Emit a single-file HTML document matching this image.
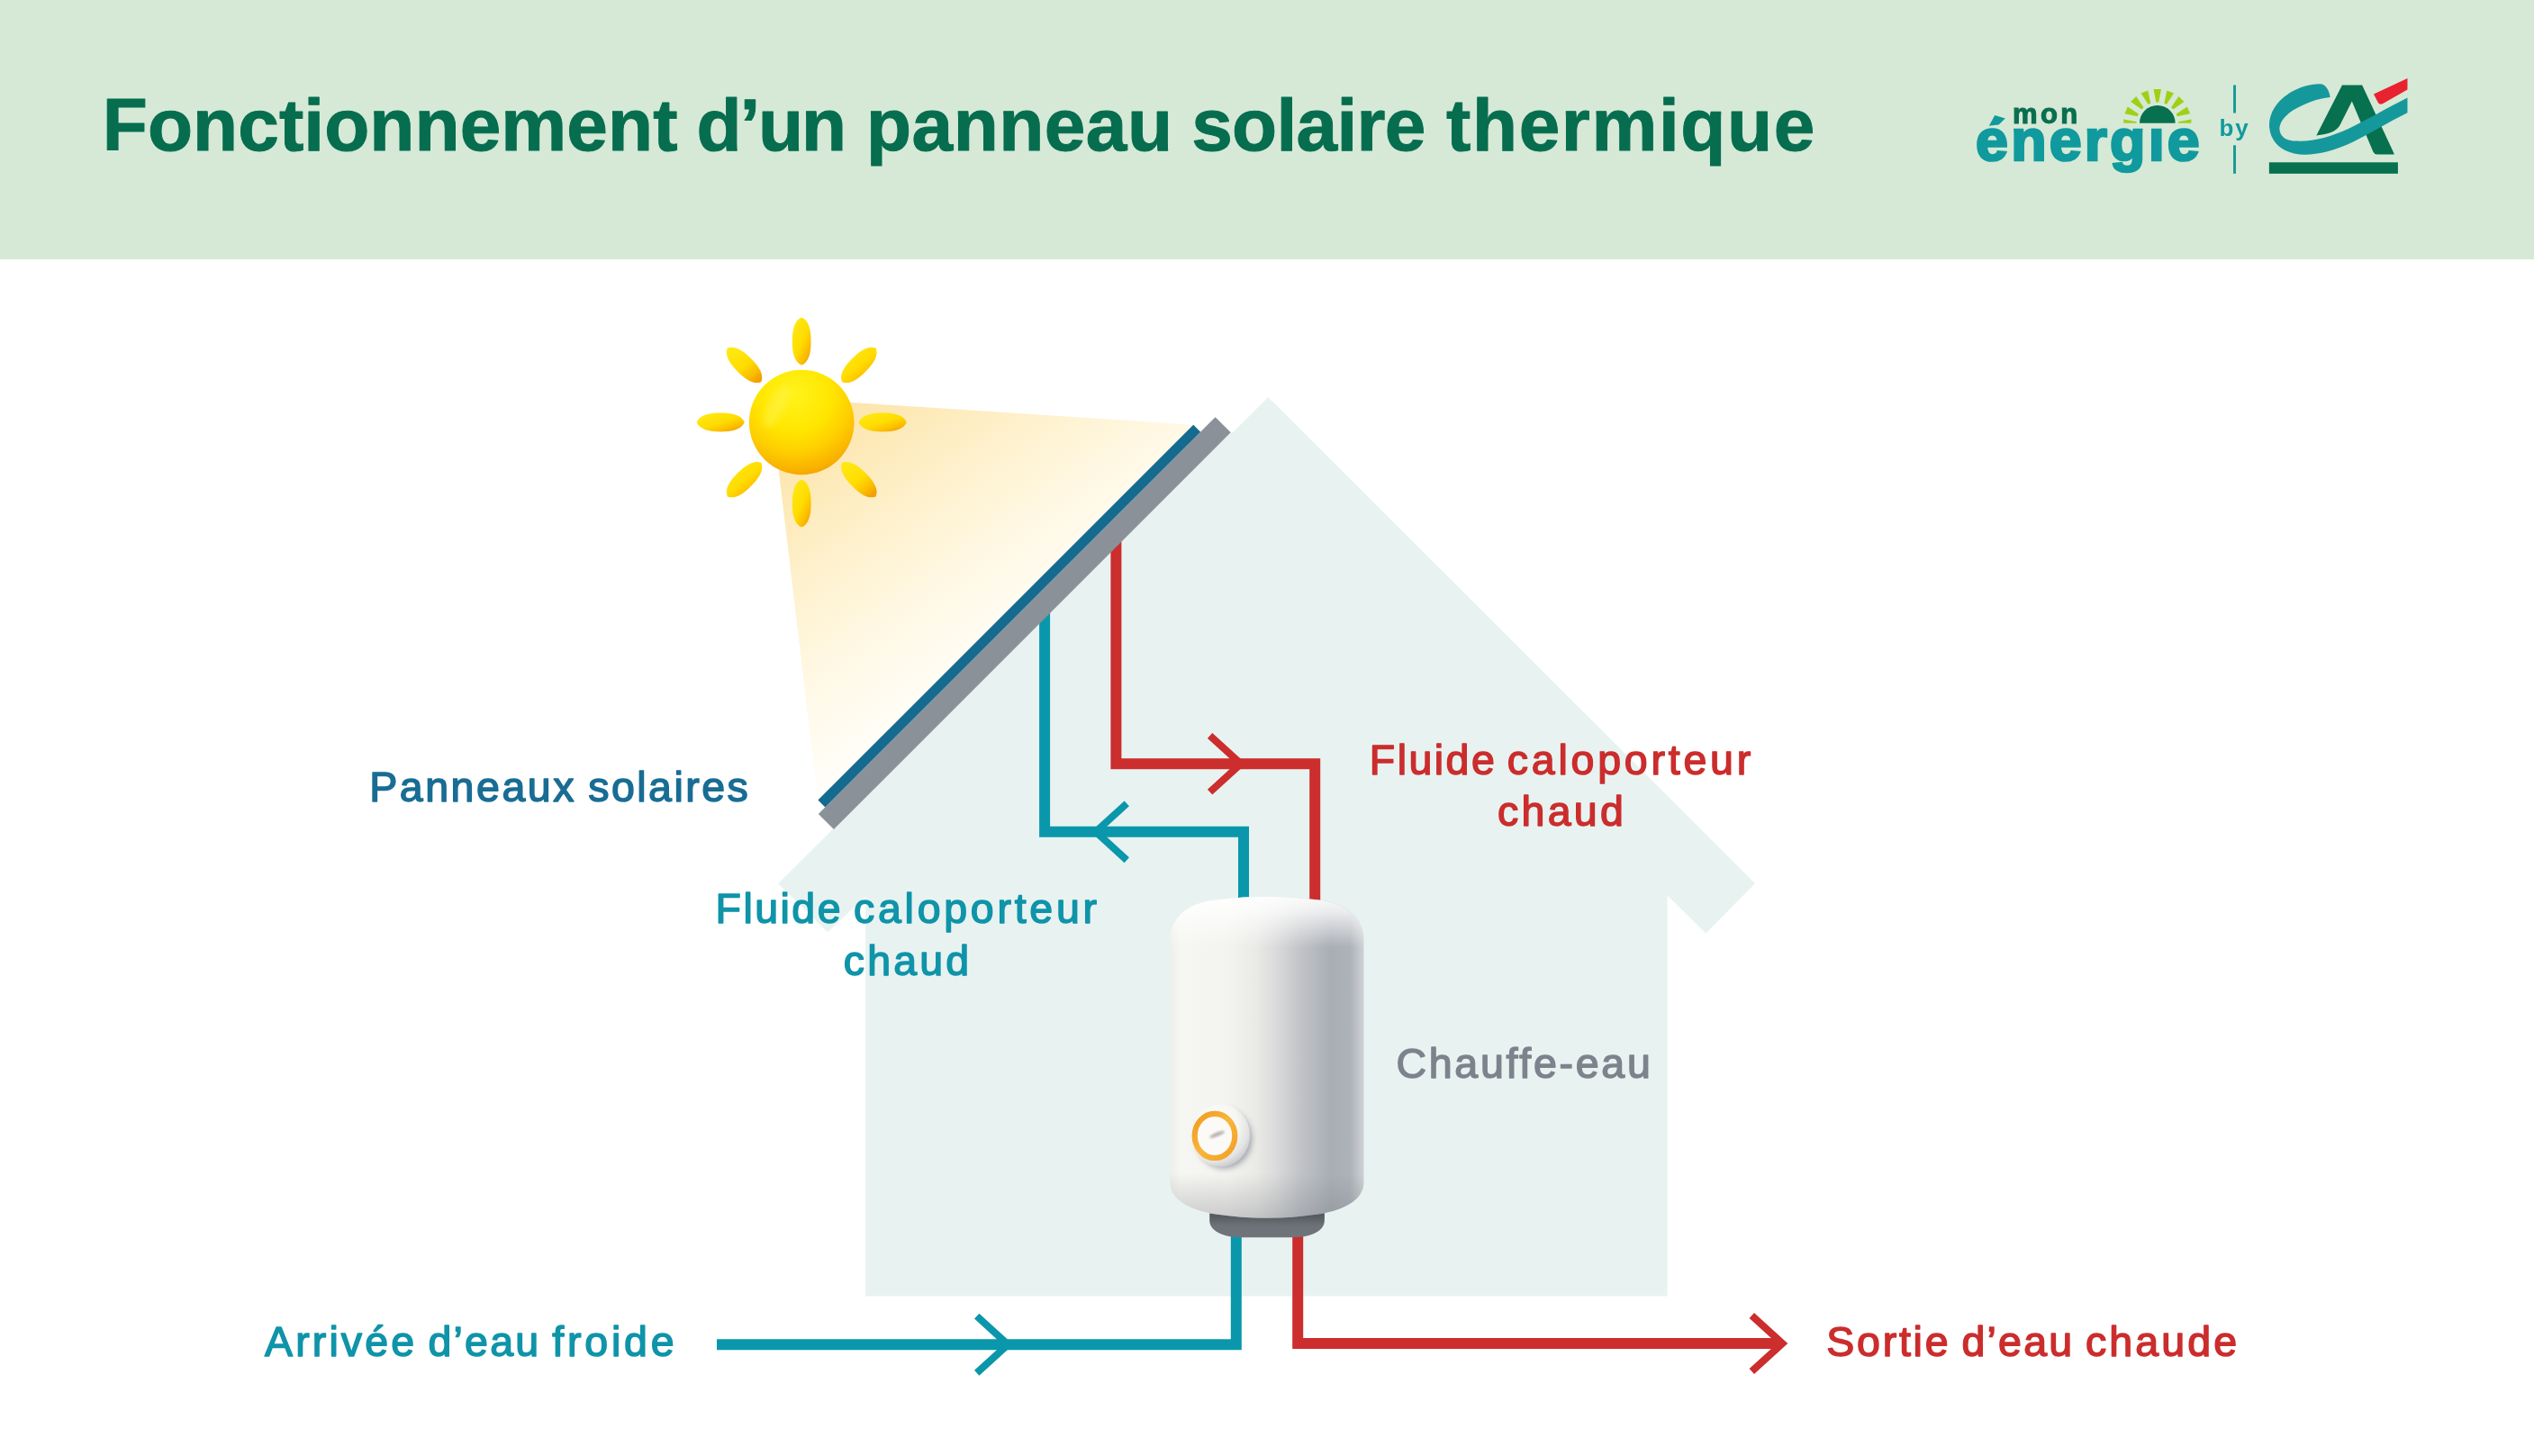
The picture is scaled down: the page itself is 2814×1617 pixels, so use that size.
<!DOCTYPE html>
<html lang="fr">
<head>
<meta charset="utf-8">
<title>Fonctionnement d'un panneau solaire thermique</title>
<style>
html,body{margin:0;padding:0;background:#ffffff;}
body{width:2814px;height:1617px;overflow:hidden;font-family:"Liberation Sans",sans-serif;}
svg{display:block;position:absolute;left:0;top:0;will-change:transform;}
text{font-family:"Liberation Sans",sans-serif;}
.b{font-weight:bold;}
</style>
</head>
<body>
<svg width="2814" height="1617" viewBox="0 0 2814 1617">
<defs>
  <linearGradient id="beam" gradientUnits="userSpaceOnUse" x1="855" y1="441" x2="1084.6" y2="768.6">
    <stop offset="0" stop-color="#fde0a0"/>
    <stop offset="0.25" stop-color="#fde9b6"/>
    <stop offset="0.5" stop-color="#fef2d0"/>
    <stop offset="0.75" stop-color="#fff9e8"/>
    <stop offset="1" stop-color="#fffefa"/>
  </linearGradient>
  <radialGradient id="sunG" gradientUnits="userSpaceOnUse" cx="882" cy="438" r="98">
    <stop offset="0" stop-color="#fff31c"/>
    <stop offset="0.42" stop-color="#ffe600"/>
    <stop offset="0.66" stop-color="#fece00"/>
    <stop offset="0.86" stop-color="#f9b100"/>
    <stop offset="1" stop-color="#f19800"/>
  </radialGradient>
  <linearGradient id="petG" x1="0.15" y1="0.1" x2="0.85" y2="0.95">
    <stop offset="0" stop-color="#ffe812"/>
    <stop offset="0.5" stop-color="#ffdc00"/>
    <stop offset="0.8" stop-color="#fbbd00"/>
    <stop offset="1" stop-color="#f2a000"/>
  </linearGradient>
  <linearGradient id="tankG" gradientUnits="userSpaceOnUse" x1="1299.5" y1="0" x2="1514.5" y2="0">
    <stop offset="0" stop-color="#eeeeea"/>
    <stop offset="0.05" stop-color="#f6f6f2"/>
    <stop offset="0.30" stop-color="#f3f3ef"/>
    <stop offset="0.45" stop-color="#e9e9e6"/>
    <stop offset="0.55" stop-color="#d9dada"/>
    <stop offset="0.68" stop-color="#c0c2c6"/>
    <stop offset="0.83" stop-color="#a9aeb5"/>
    <stop offset="0.93" stop-color="#aeb2b9"/>
    <stop offset="1" stop-color="#cfd2d5"/>
  </linearGradient>
  <linearGradient id="tankV" gradientUnits="userSpaceOnUse" x1="0" y1="995" x2="0" y2="1353">
    <stop offset="0" stop-color="#ffffff" stop-opacity="0.95"/>
    <stop offset="0.05" stop-color="#ffffff" stop-opacity="0.75"/>
    <stop offset="0.16" stop-color="#ffffff" stop-opacity="0"/>
    <stop offset="0.86" stop-color="#70757c" stop-opacity="0"/>
    <stop offset="1" stop-color="#70757c" stop-opacity="0.32"/>
  </linearGradient>
  <linearGradient id="baseG" gradientUnits="userSpaceOnUse" x1="0" y1="1350" x2="0" y2="1374">
    <stop offset="0" stop-color="#555a60"/>
    <stop offset="0.45" stop-color="#6c7177"/>
    <stop offset="1" stop-color="#70757b"/>
  </linearGradient>
  <linearGradient id="ringG" x1="0" y1="0" x2="1" y2="1">
    <stop offset="0" stop-color="#f19a20"/>
    <stop offset="0.5" stop-color="#f8b53a"/>
    <stop offset="1" stop-color="#f2a024"/>
  </linearGradient>
  <radialGradient id="knobG" gradientUnits="userSpaceOnUse" cx="1346" cy="1250" r="48">
    <stop offset="0" stop-color="#fcfcfa"/>
    <stop offset="0.6" stop-color="#f6f6f3"/>
    <stop offset="0.85" stop-color="#e2e3e3"/>
    <stop offset="1" stop-color="#c9cbce"/>
  </radialGradient>
  <filter id="blur3" x="-50%" y="-50%" width="200%" height="200%"><feGaussianBlur stdDeviation="3"/></filter>
  <filter id="blur1" x="-50%" y="-50%" width="200%" height="200%"><feGaussianBlur stdDeviation="0.8"/></filter>
  <path id="tankbody" d="M1299.5,1043 C1299.5,1018 1322,1001 1354,999 Q1407,992.6 1460,999 C1492,1001 1514.5,1018 1514.5,1043 V1313 C1514.5,1330 1498,1343 1464,1348.5 Q1407,1357 1350,1348.5 C1316,1343 1299.5,1330 1299.5,1313 Z"/>
</defs>

<!-- header band -->
<rect x="0" y="0" width="2814" height="288" fill="#d6e9d6"/>

<!-- house -->
<path id="house" fill="#e8f3f1" d="M1408.4,440.9 L1949.1,981.3 L1894.3,1036.4 L1851.6,994.6 L1851.6,1439.5 L961.2,1439.5 L961.2,995.8 L919.2,1035.3 L864.1,981.3 Z"/>

<polygon points="1364.5,478.5 1369.5,483.5 930,923 925,918" fill="#e8f3f1"/>

<!-- light beam -->
<polygon points="855,441 1325.3,471.8 908.4,888.6" fill="url(#beam)"/>

<!-- pipes -->
<g fill="none" stroke-width="12" stroke-linejoin="miter" stroke-linecap="butt">
  <path stroke="#cc2d2d" d="M1239.4,600 V848.3 H1460.2 V1000"/>
  <path stroke="#0b97ab" d="M1160.1,680 V923.8 H1381 V1000"/>
  <path stroke="#0b97ab" d="M796,1493.2 H1372.8 V1365"/>
  <path stroke="#cc2d2d" d="M1441.2,1365 V1492 H1979"/>
</g>
<g fill="none" stroke-width="8" stroke-linejoin="miter" stroke-linecap="butt">
  <path stroke="#cc2d2d" d="M1343.6,817 L1378,848.3 L1343.6,879.6"/>
  <path stroke="#0b97ab" d="M1251.3,892.4 L1216.8,923.8 L1251.3,955.2"/>
  <path stroke="#0b97ab" d="M1084.7,1461.6 L1119.4,1493.2 L1084.7,1524.8"/>
  <path stroke="#cc2d2d" d="M1945.3,1461 L1979.4,1492 L1945.3,1523"/>
</g>

<!-- solar panel -->
<polygon points="1349.6,463.2 1366.7,480.3 925.95,921.05 908.85,903.95" fill="#8b9199"/>
<polygon points="1325.25,471.75 1333.15,479.65 916.3,896.5 908.4,888.6" fill="#156b8f"/>

<!-- sun -->
<g fill="url(#petG)">
  <path d="M953.6,469.0 C957.1,460.9 967.2,458.6 980.2,458.6 C993.2,458.6 1003.3,460.9 1006.8,469.0 C1003.3,477.1 993.2,479.4 980.2,479.4 C967.2,479.4 957.1,477.1 953.6,469.0Z"/>
  <path d="M935.0,513.8 C943.2,510.6 952.0,516.1 961.2,525.3 C970.4,534.5 975.9,543.2 972.6,551.4 C964.4,554.7 955.7,549.2 946.5,540.0 C937.3,530.8 931.8,522.0 935.0,513.8Z"/>
  <path d="M890.2,532.4 C898.3,535.9 900.6,546.0 900.6,559.0 C900.6,572.0 898.3,582.1 890.2,585.6 C882.1,582.1 879.8,572.0 879.8,559.0 C879.8,546.0 882.1,535.9 890.2,532.4Z"/>
  <path d="M845.4,513.8 C848.6,522.0 843.1,530.8 833.9,540.0 C824.7,549.2 816.0,554.7 807.8,551.4 C804.5,543.2 810.0,534.5 819.2,525.3 C828.4,516.1 837.2,510.6 845.4,513.8Z"/>
  <path d="M826.8,469.0 C823.3,477.1 813.2,479.4 800.2,479.4 C787.2,479.4 777.1,477.1 773.6,469.0 C777.1,460.9 787.2,458.6 800.2,458.6 C813.2,458.6 823.3,460.9 826.8,469.0Z"/>
  <path d="M845.4,424.2 C837.2,427.4 828.4,421.9 819.2,412.7 C810.0,403.5 804.5,394.8 807.8,386.6 C816.0,383.3 824.7,388.8 833.9,398.0 C843.1,407.2 848.6,416.0 845.4,424.2Z"/>
  <path d="M890.2,405.6 C882.1,402.1 879.8,392.0 879.8,379.0 C879.8,366.0 882.1,355.9 890.2,352.4 C898.3,355.9 900.6,366.0 900.6,379.0 C900.6,392.0 898.3,402.1 890.2,405.6Z"/>
  <path d="M935.0,424.2 C931.8,416.0 937.3,407.2 946.5,398.0 C955.7,388.8 964.4,383.3 972.6,386.6 C975.9,394.8 970.4,403.5 961.2,412.7 C952.0,421.9 943.2,427.4 935.0,424.2Z"/>
</g>
<circle cx="890.2" cy="469" r="58.3" fill="url(#sunG)"/>
<ellipse cx="862" cy="452" rx="9" ry="26" transform="rotate(28 862 452)" fill="#fff76a" opacity="0.35" filter="url(#blur3)"/>

<!-- TANK -->
<g id="tank">
  <path d="M1343.2,1340 H1470.9 V1355 C1470.9,1367 1457,1374.2 1434,1374.2 H1380 C1357,1374.2 1343.2,1367 1343.2,1355 Z" fill="url(#baseG)"/>
  <use href="#tankbody" fill="url(#tankG)"/>
  <use href="#tankbody" fill="url(#tankV)"/>
  <ellipse cx="1359.5" cy="1265" rx="31" ry="33" fill="#8d939b" opacity="0.75" filter="url(#blur3)"/>
  <ellipse cx="1355.5" cy="1261" rx="32.5" ry="35" fill="url(#knobG)"/>
  <ellipse cx="1349" cy="1261.4" rx="22.3" ry="24.6" fill="#fbfaf7" stroke="url(#ringG)" stroke-width="6.2"/>
  <ellipse cx="1351.6" cy="1259.8" rx="9" ry="2.3" transform="rotate(-22 1351.6 1259.8)" fill="#b9b6b0" filter="url(#blur1)"/>
</g>

<!-- TEXT -->
<g id="labels" stroke-linejoin="round">
  <text id="t_title" class="b" y="166.6" font-size="82" fill="#066d4f" stroke="#066d4f" stroke-width="1.0"><tspan x="113.8" textLength="638.7" lengthAdjust="spacing">Fonctionnement</tspan><tspan x="773.6" textLength="166.4" lengthAdjust="spacing">d’un</tspan><tspan x="962.0" textLength="340.0" lengthAdjust="spacing">panneau</tspan><tspan x="1323.2" textLength="260.1" lengthAdjust="spacing">solaire</tspan><tspan x="1606.0" textLength="409.4" lengthAdjust="spacing">thermique</tspan></text>
  <text id="t_pan" y="890.1" font-size="46.5" fill="#196d94" stroke="#196d94" stroke-width="1.5"><tspan x="410.3" textLength="227.1" lengthAdjust="spacing">Panneaux</tspan><tspan x="653.3" textLength="177.4" lengthAdjust="spacing">solaires</tspan></text>
  <text id="t_fc1" y="1025.3" font-size="46.5" fill="#0f94a9" stroke="#0f94a9" stroke-width="1.5"><tspan x="794.6" textLength="138.9" lengthAdjust="spacing">Fluide</tspan><tspan x="948.0" textLength="270.0" lengthAdjust="spacing">caloporteur</tspan></text>
  <text id="t_fc2" y="1082.7" font-size="46.5" fill="#0f94a9" stroke="#0f94a9" stroke-width="1.5"><tspan x="936.8" textLength="139.2" lengthAdjust="spacing">chaud</tspan></text>
  <text id="t_fr1" y="859.7" font-size="46.5" fill="#cb2d2d" stroke="#cb2d2d" stroke-width="1.5"><tspan x="1520.8" textLength="139.0" lengthAdjust="spacing">Fluide</tspan><tspan x="1673.8" textLength="270.4" lengthAdjust="spacing">caloporteur</tspan></text>
  <text id="t_fr2" y="917" font-size="46.5" fill="#cb2d2d" stroke="#cb2d2d" stroke-width="1.5"><tspan x="1663.0" textLength="139.8" lengthAdjust="spacing">chaud</tspan></text>
  <text id="t_ce" y="1196.7" font-size="46.5" fill="#7d838c" stroke="#7d838c" stroke-width="1.5"><tspan x="1550.4" textLength="282.4" lengthAdjust="spacing">Chauffe-eau</tspan></text>
  <text id="t_arr" y="1506.3" font-size="46.5" fill="#0f94a9" stroke="#0f94a9" stroke-width="1.5"><tspan x="294.1" textLength="165.9" lengthAdjust="spacing">Arrivée</tspan><tspan x="475.4" textLength="122.7" lengthAdjust="spacing">d’eau</tspan><tspan x="613.3" textLength="135.3" lengthAdjust="spacing">froide</tspan></text>
  <text id="t_sor" y="1506.3" font-size="46.5" fill="#cb2d2d" stroke="#cb2d2d" stroke-width="1.5"><tspan x="2028.2" textLength="135.4" lengthAdjust="spacing">Sortie</tspan><tspan x="2178.4" textLength="122.7" lengthAdjust="spacing">d’eau</tspan><tspan x="2315.9" textLength="168.3" lengthAdjust="spacing">chaude</tspan></text>
</g>

<!-- LOGO -->
<g id="logo">
  <text id="t_mon" class="b" x="2235.1" y="137.3" font-size="31" fill="#0a6e50" stroke="#0a6e50" stroke-width="1.1" textLength="72" lengthAdjust="spacing">mon</text>
  <text id="t_ener" class="b" x="2194.1" y="177.6" font-size="64.5" fill="#109a9e" stroke="#109a9e" stroke-width="2.7" stroke-linejoin="miter" textLength="248.5" lengthAdjust="spacing">energıe</text>
  <polygon points="2215.2,127.9 2226.8,131.6 2219.6,138.4 2208.8,139.8" fill="#109a9e"/>
  <clipPath id="sunclip"><rect x="2340" y="90" width="120" height="46.7"/></clipPath>
  <g clip-path="url(#sunclip)">
    <g fill="#a0d016"><polygon points="2372.6,135.2 2358.2,132.5 2358.2,140.9 2372.6,138.2"/><polygon points="2374.9,126.4 2362.7,118.4 2359.5,126.2 2373.8,129.2"/><polygon points="2380.5,119.2 2372.2,107.1 2366.2,113.1 2378.3,121.4"/><polygon points="2388.3,114.7 2385.3,100.4 2377.5,103.6 2385.5,115.8"/><polygon points="2397.3,113.5 2400.0,99.1 2391.6,99.1 2394.3,113.5"/><polygon points="2406.1,115.8 2414.1,103.6 2406.3,100.4 2403.3,114.7"/><polygon points="2413.3,121.4 2425.4,113.1 2419.4,107.1 2411.1,119.2"/><polygon points="2417.8,129.2 2432.1,126.2 2428.9,118.4 2416.7,126.4"/><polygon points="2419.0,138.2 2433.4,140.9 2433.4,132.5 2419.0,135.2"/></g>
    <circle cx="2395.8" cy="136.7" r="19.8" fill="#07704f"/>
  </g>
  <rect x="2480" y="94.5" width="3" height="31" fill="#1a9a98"/>
  <rect x="2480" y="161.3" width="3" height="31.5" fill="#1a9a98"/>
  <text id="t_by" class="b" x="2464.6" y="151.4" font-size="26" fill="#109a9e" textLength="32" lengthAdjust="spacing">by</text>
  <g id="ca" transform="translate(2450,70) scale(0.09866)">
    <rect x="708" y="1118" width="1450" height="127" fill="#07704f"/>
    <path fill="#07704f" d="M1530,248 H1755 L2115,1020 Q2118,1030 2105,1030 H1925 Q1895,1030 1880,1000 L1640,430 L1505,700 Q1450,800 1240,815 Z"/>
    <path fill="#15989b" d="M1290,235 C1340,240 1385,300 1395,385 C1250,400 1120,450 980,530 C870,600 825,680 825,740 C830,820 880,870 1000,878 C1200,890 1400,830 1600,740 C1800,640 2050,500 2265,390 L2265,560 C2050,665 1850,790 1650,890 C1450,985 1250,1035 1100,1032 C900,1025 730,930 710,720 C700,560 800,420 950,330 C1060,265 1180,230 1290,235 Z"/>
    <path fill="#e8232f" d="M1885,350 L2265,172 L2265,300 L1990,455 Q1950,475 1935,445 Z"/>
  </g>
</g>
</svg>
</body>
</html>
